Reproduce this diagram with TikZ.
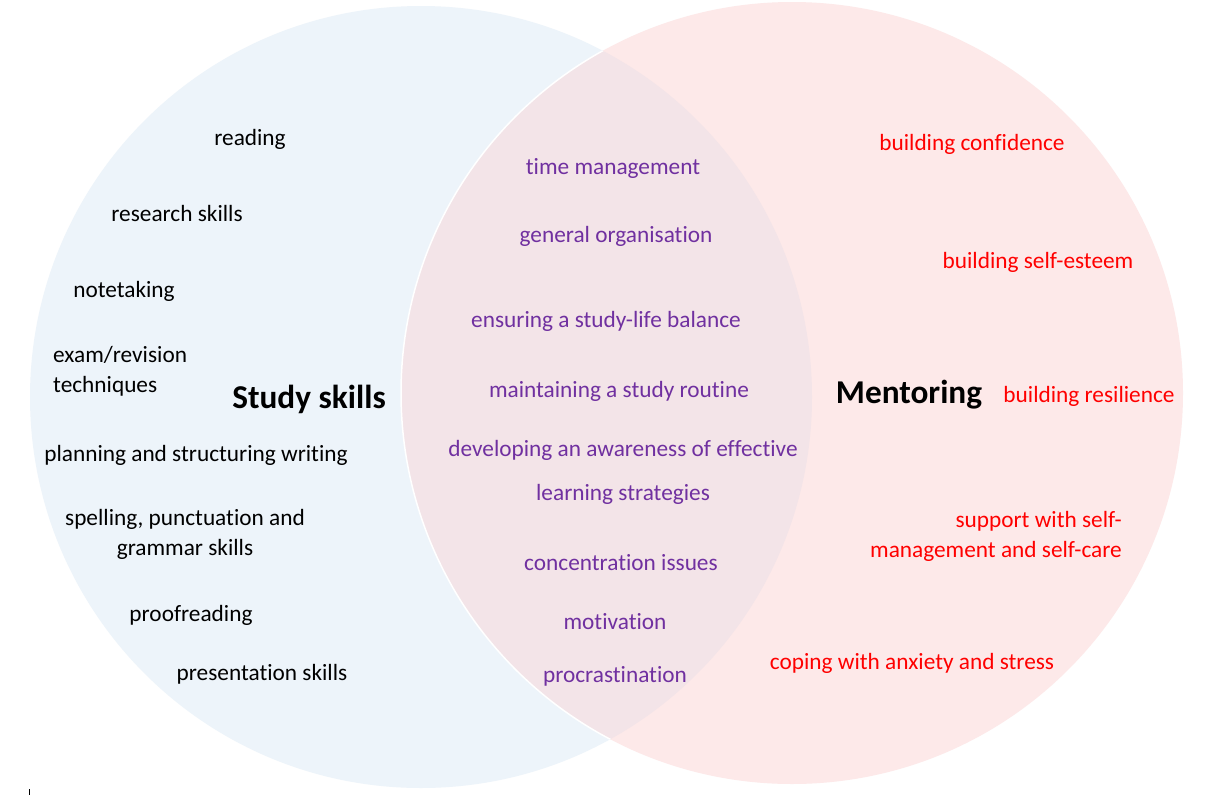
\documentclass[tikz,border=0pt]{standalone}
\usepackage{fontspec}
\setmainfont[Ligatures={NoCommon,NoRequired,NoContextual}]{Carlito}
\definecolor{lblue}{RGB}{237,244,250}
\definecolor{lpink}{RGB}{253,233,233}
\definecolor{lmix}{RGB}{243,228,232}
\definecolor{purp}{RGB}{112,48,160}
\definecolor{redt}{RGB}{255,0,0}
\begin{document}
\begin{tikzpicture}[x=1pt,y=-1pt,
  item/.style={inner sep=0pt,yshift=-1.5pt,font=\fontsize{23.3}{30}\selectfont},
  study/.style={item,text=black},
  shared/.style={item,text=purp},
  mentor/.style={item,text=redt},
  title/.style={inner sep=0pt,yshift=-1pt,font=\fontsize{33.3}{38}\selectfont\bfseries,text=black}]
\useasboundingbox (0,0) rectangle (1218,795);
\fill[white] (0,0) rectangle (1218,795);
% circles
\fill[lblue] (421,397) circle (391);
\fill[lpink] (792,393) circle (391);
\begin{scope}
  \clip (421,397) circle (391);
  \fill[lmix] (792,393) circle (391);
\end{scope}
\begin{scope}
  \clip (421,397) circle (391);
  \draw[white,line width=1.5pt] (792,393) circle (391);
\end{scope}
% study skills
\node[study] (reading) at (250,138) {reading};
\node[study] (research) at (177,212) {research skills};
\node[study] (notes) at (124,290) {notetaking};
\node[study,anchor=west,align=left] (exam) at (53,370) {exam/revision\\techniques};
\node[title] (studytitle) at (309,398) {Study skills};
\node[study] (planning) at (196,454) {planning and structuring writing};
\node[study,align=center] (spelling) at (185,533) {spelling, punctuation and\\grammar skills};
\node[study] (proof) at (191,614) {proofreading};
\node[study] (present) at (262,673) {presentation skills};
% shared
\node[shared] (time) at (613,167) {time management};
\node[shared] (org) at (616,235) {general organisation};
\node[shared] (balance) at (606,320) {ensuring a study-life balance};
\node[shared] (routine) at (619,390) {maintaining a study routine};
\node[shared] (aware) at (623,449) {developing an awareness of effective};
\node[shared] (learn) at (623,493) {learning strategies};
\node[shared] (conc) at (621,561) {concentration issues};
\node[shared] (motiv) at (615,620) {motivation};
\node[shared] (procr) at (615,675) {procrastination};
% mentoring
\node[mentor] (conf) at (972,143) {building confidence};
\node[mentor] (esteem) at (1038,261) {building self-esteem};
\node[title] (mentortitle) at (909,394) {Mentoring};
\node[mentor] (resil) at (1089,395) {building resilience};
\node[mentor,anchor=east,align=right] (selfcare) at (1122,535) {support with self-\\management and self-care};
\node[mentor] (coping) at (912,662) {coping with anxiety and stress};
% small mark
\draw[black,line width=0.6pt] (29,789) -- (29,795);
\end{tikzpicture}
\end{document}
